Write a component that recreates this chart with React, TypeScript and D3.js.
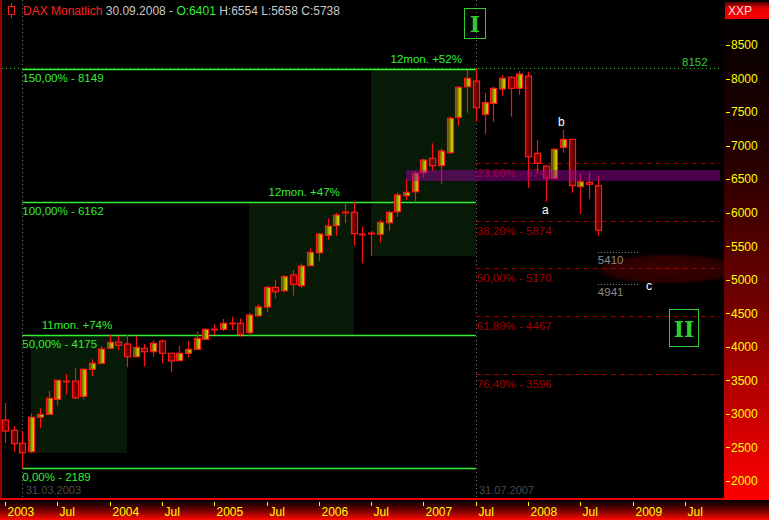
import React from "react";
import * as d3 from "d3";

// ---- data ----
const candleMonths = [
  "2003-01","2003-02","2003-03","2003-04","2003-05","2003-06","2003-07","2003-08","2003-09","2003-10","2003-11","2003-12",
  "2004-01","2004-02","2004-03","2004-04","2004-05","2004-06","2004-07","2004-08","2004-09","2004-10","2004-11","2004-12",
  "2005-01","2005-02","2005-03","2005-04","2005-05","2005-06","2005-07","2005-08","2005-09","2005-10","2005-11","2005-12",
  "2006-01","2006-02","2006-03","2006-04","2006-05","2006-06","2006-07","2006-08","2006-09","2006-10","2006-11","2006-12",
  "2007-01","2007-02","2007-03","2007-04","2007-05","2007-06","2007-07","2007-08","2007-09","2007-10","2007-11","2007-12",
  "2008-01","2008-02","2008-03","2008-04","2008-05","2008-06","2008-07","2008-08","2008-09",
];
const opens = [
  2909,2756,2562,2437,2950,2994,3218,3495,3490,3262,3665,3754,
  3978,4072,4042,3853,3978,3928,4087,3904,3794,3904,3963,4112,
  4258,4261,4348,4351,4211,4464,4594,4887,4837,5071,4912,5210,
  5403,5662,5806,5995,6005,5680,5683,5677,5851,6015,6254,6313,
  6596,6810,6701,6894,7422,7878,7963,7467,7630,7843,8018,7854,
  8037,6885,6696,6512,6974,7093,6388,6453,6401,
];
const highs = [
  3163,2820,2745,3009,3084,3342,3508,3595,3680,3680,3814,4013,
  4177,4162,4177,4162,4042,4102,4112,3910,4013,4087,4226,4276,
  4340,4415,4449,4425,4509,4634,4907,4996,5071,5145,5245,5469,
  5702,5916,6000,6130,6162,5791,5727,5891,6030,6303,6502,6622,
  6805,7034,6960,7431,7888,8127,8152,7789,7878,8052,8037,8112,
  8102,7083,6700,6960,7232,7100,6587,6611,6554,
];
const lows = [
  2566,2437,2189,2413,2786,2984,3123,3292,3218,3218,3565,3745,
  3968,3953,3695,3845,3705,3853,3754,3620,3790,3839,3955,4105,
  4177,4236,4251,4151,4165,4449,4520,4724,4813,4763,4877,5205,
  5284,5593,5657,5851,5508,5245,5359,5553,5727,5940,6189,6174,
  6522,6622,6428,6875,7297,7491,7356,7173,7356,7744,7431,7754,
  6373,6586,6164,6505,6894,6298,5981,6199,5658,
];
const closes = [
  2745,2556,2422,2950,2994,3233,3501,3488,3240,3665,3754,3968,
  4068,4023,3853,3993,3928,4053,3904,3789,3904,3963,4127,4261,
  4262,4351,4352,4187,4475,4594,4887,4822,5046,4932,5205,5409,
  5682,5801,5965,6003,5687,5675,5690,5856,6005,6264,6303,6587,
  6785,6701,6919,7407,7869,8003,7565,7640,7854,8003,7854,8067,
  6835,6736,6517,6944,7093,6403,6462,6423,5738,
];

const axisMonths = d3.utcMonth
  .range(new Date(Date.UTC(2003, 0, 1)), new Date(Date.UTC(2010, 0, 1)))
  .map((d) => d3.utcFormat("%Y-%m")(d));
const xTickMonths = ["2003-01","2003-07","2004-01","2004-07","2005-01","2005-07","2006-01","2006-07","2007-01","2007-07","2008-01","2008-07","2009-01","2009-07"];
const xTickLabels = ["2003","Jul","2004","Jul","2005","Jul","2006","Jul","2007","Jul","2008","Jul","2009","Jul"];
const yTicks = [2000, 2500, 3000, 3500, 4000, 4500, 5000, 5500, 6000, 6500, 7000, 7500, 8000, 8500];

// Fibonacci extension levels (green) and retracements (dark red)
const extLevels = [8149, 6162, 4175, 2189];
const extLabels = ["150,00% - 8149", "100,00% - 6162", "50,00% - 4175", "0,00% - 2189"];
const retLevels = [6743, 5874, 5170, 4467, 3596];
const retLabels = ["23,60% - 6743", "38,20% - 5874", "50,00% - 5170", "61,80% - 4467", "76,40% - 3596"];

// shaded rally boxes: start month, end month, low, high, label
const boxStart = ["2003-04", "2005-05", "2006-07"];
const boxEnd = ["2004-03", "2006-05", "2007-07"];
const boxLow = [2417, 4175, 5354];
const boxHigh = [4175, 6162, 8149];
const boxLabels = ["11mon. +74%", "12mon. +47%", "12mon. +52%"];
const boxLabelMonth = ["2003-05", "2005-07", "2006-09"];

const bandLow = 6472;
const bandHigh = 6636;
const targets = [5410, 4941];
const allTimeHigh = 8152;

const W = 769;
const H = 520;
const plotRight = 724;
const plotBottom = 499;

export default function App() {
  const x = d3.scalePoint<string>().domain(axisMonths).range([4.9, 4.9 + 83 * 8.72]);
  const y = d3.scaleLinear().domain([2000, 8500]).range([481, 45]);
  const X = (m: string) => x(m) as number;
  const green = "#33ee33";
  const fibRed = "#a00000";
  const font = "'Liberation Sans', Arial, sans-serif";
  const xLow = X("2003-03");
  const xTop = X("2007-07");

  return (
    <svg width={W} height={H} style={{ position: "absolute", left: 0, top: 0, background: "#000" }} fontFamily={font}>
      <defs>
        <linearGradient id="upFill" x1="0" x2="1" y1="0" y2="0">
          <stop offset="0" stopColor="#3a3a00" />
          <stop offset="0.6" stopColor="#b0b400" />
          <stop offset="1" stopColor="#eaea00" />
        </linearGradient>
        <linearGradient id="downFill" x1="0" x2="1" y1="0" y2="0">
          <stop offset="0" stopColor="#b00000" />
          <stop offset="1" stopColor="#3a0000" />
        </linearGradient>
        <linearGradient id="rightPanel" gradientUnits="userSpaceOnUse" x1="0" x2="0" y1="0" y2="500">
          <stop offset="0" stopColor="#000000" />
          <stop offset="0.3" stopColor="#220000" />
          <stop offset="0.6" stopColor="#700000" />
          <stop offset="0.85" stopColor="#d00000" />
          <stop offset="1" stopColor="#ff0000" />
        </linearGradient>
        <linearGradient id="bottomPanel" gradientUnits="userSpaceOnUse" x1="0" x2="0" y1="500" y2="520">
          <stop offset="0" stopColor="#000000" />
          <stop offset="0.45" stopColor="#600000" />
          <stop offset="1" stopColor="#ff0a00" />
        </linearGradient>
        <linearGradient id="header" x1="0" x2="0" y1="0" y2="1">
          <stop offset="0" stopColor="#500000" />
          <stop offset="0.35" stopColor="#e00000" />
          <stop offset="1" stopColor="#ff0000" />
        </linearGradient>
        <radialGradient id="blob" cx="0.5" cy="0.5" r="0.5">
          <stop offset="0" stopColor="#3a0000" />
          <stop offset="0.75" stopColor="#2a0000" />
          <stop offset="1" stopColor="#000000" stopOpacity="0" />
        </radialGradient>
        <clipPath id="plotClip">
          <rect x={2} y={0} width={plotRight - 2} height={plotBottom} />
        </clipPath>
      </defs>

      <rect x={0} y={0} width={W} height={H} fill="#000" />

      <g clipPath="url(#plotClip)">
        {/* shaded rally boxes */}
        {boxStart.map((s, i) => (
          <rect key={"box" + i} x={X(s)} y={y(boxHigh[i])} width={X(boxEnd[i]) - X(s)} height={y(boxLow[i]) - y(boxHigh[i])} fill="#071a07" />
        ))}

        {/* dark red target zone */}
        <ellipse cx={668} cy={269} rx={82} ry={17} fill="url(#blob)" />

        {/* dotted verticals */}
        <line x1={Math.round(xLow) + 0.5} x2={Math.round(xLow) + 0.5} y1={0} y2={plotBottom} stroke="#777" strokeDasharray="1,3" />
        <line x1={Math.round(xTop) + 0.5} x2={Math.round(xTop) + 0.5} y1={0} y2={plotBottom} stroke="#777" strokeDasharray="1,3" />

        {/* all-time-high dotted line */}
        <line x1={2} x2={722} y1={Math.round(y(allTimeHigh)) + 0.5} y2={Math.round(y(allTimeHigh)) + 0.5} stroke="#33bb33" strokeDasharray="1,3" />

        {/* green extension lines */}
        {extLevels.map((v, i) => (
          <g key={"ext" + i}>
            <line x1={xLow} x2={xTop} y1={Math.round(y(v)) + 0.5} y2={Math.round(y(v)) + 0.5} stroke={green} strokeWidth={1.3} />
            <text x={xLow} y={y(v) + 13} fill={green} fontSize={11.5}>{extLabels[i]}</text>
          </g>
        ))}

        {/* retracement lines */}
        {retLevels.map((v, i) => (
          <g key={"ret" + i}>
            <line x1={xTop} x2={720} y1={Math.round(y(v)) + 0.5} y2={Math.round(y(v)) + 0.5} stroke={fibRed} strokeDasharray="5,4" />
            <text x={xTop + 1} y={y(v) + 14} fill={fibRed} fontSize={11.5}>{retLabels[i]}</text>
          </g>
        ))}

        {/* candles */}
        {candleMonths.map((m, i) => {
          const cx = Math.round(X(m));
          const o = opens[i], c = closes[i];
          const top = y(Math.max(o, c));
          const bot = y(Math.min(o, c));
          const up = c >= o;
          const doji = bot - top < 1.6;
          return (
            <g key={"c" + m}>
              <line x1={cx + 0.5} x2={cx + 0.5} y1={y(highs[i])} y2={y(lows[i])} stroke="#ff1010" strokeWidth={1.2} />
              {doji ? (
                <line x1={cx - 3} x2={cx + 4} y1={Math.round(top) + 0.5} y2={Math.round(top) + 0.5} stroke="#ff1010" strokeWidth={2} />
              ) : (
                <rect x={cx - 2.5} y={top} width={6} height={bot - top} fill={up ? "url(#upFill)" : "url(#downFill)"} stroke="#ff1a1a" strokeWidth={1.2} />
              )}
            </g>
          );
        })}

        {/* purple zone */}
        <rect x={X("2006-11")} y={y(bandHigh)} width={720 - X("2006-11")} height={y(bandLow) - y(bandHigh)} fill="#a000a0" fillOpacity={0.47} />

        {/* box labels */}
        {boxLabels.map((t, i) => (
          <text key={"bl" + i} x={X(boxLabelMonth[i]) + 2} y={y(boxHigh[i]) - 6} fill={green} fontSize={11.5}>{t}</text>
        ))}

        {/* target dotted lines */}
        {targets.map((v) => (
          <g key={"t" + v}>
            <line x1={X("2008-09")} x2={638} y1={Math.round(y(v)) + 0.5} y2={Math.round(y(v)) + 0.5} stroke="#888" strokeDasharray="1,2" />
            <text x={X("2008-09")} y={y(v) + 12} fill="#8a8a8a" fontSize={11.5}>{v}</text>
          </g>
        ))}

        {/* wave labels */}
        <text x={542} y={214} fill="#fff" fontSize={12}>a</text>
        <text x={558} y={126} fill="#fff" fontSize={12}>b</text>
        <text x={646} y={290} fill="#fff" fontSize={12}>c</text>

        <text x={682} y={66} fill="#33cc33" fontSize={11.5}>{allTimeHigh}</text>

        {/* date stamps */}
        <text x={26} y={494} fill="#4a4a4a" fontSize={11}>31.03.2003</text>
        <text x={479} y={494} fill="#4a4a4a" fontSize={11}>31.07.2007</text>

        {/* wave count markers */}
        <rect x={464.5} y={8.5} width={21} height={30} fill="none" stroke="#33cc33" />
        <text x={475} y={32} fill="#33cc33" fontSize={22} fontWeight="bold" textAnchor="middle" fontFamily="'DejaVu Serif', serif">I</text>
        <rect x={669.5} y={309.5} width={29} height={37} fill="none" stroke="#33cc33" />
        <text x={684} y={337} fill="#33cc33" fontSize={22} fontWeight="bold" textAnchor="middle" fontFamily="'DejaVu Serif', serif">II</text>
      </g>

      {/* title */}
      <g>
        <line x1={11.5} x2={11.5} y1={3} y2={18} stroke="#ff1a1a" />
        <rect x={8.5} y={6.5} width={6} height={8} fill="#000" stroke="#ff1a1a" />
        <text x={23} y={15} fontSize={12}>
          <tspan fill="#ff2020">DAX Monatlich</tspan>
          <tspan fill="#c8c8c8">{"  30.09.2008 - "}</tspan>
          <tspan fill="#33ee33">O:6401</tspan>
          <tspan fill="#c8c8c8">{" H:6554 L:5658 C:5738"}</tspan>
        </text>
      </g>

      {/* borders */}
      <line x1={1} x2={1} y1={0} y2={plotBottom} stroke="#cc0000" strokeWidth={1.5} />

      {/* right axis panel */}
      <rect x={plotRight} y={0} width={W - plotRight} height={plotBottom + 1} fill="url(#rightPanel)" />
      <rect x={plotRight + 1} y={2} width={W - plotRight - 1} height={17} fill="url(#header)" />
      <text x={728} y={15} fill="#ffd8d8" fontSize={12}>XXP</text>
      {yTicks.map((v) => (
        <g key={"y" + v}>
          <line x1={726} x2={730} y1={Math.round(y(v)) + 0.5} y2={Math.round(y(v)) + 0.5} stroke="#ffff00" />
          <text x={731} y={y(v)} dy="0.36em" fill="#ffff00" fontSize={12}>{v}</text>
        </g>
      ))}

      {/* bottom axis panel */}
      <rect x={0} y={plotBottom + 1} width={W} height={H - plotBottom - 1} fill="url(#bottomPanel)" />
      <line x1={0} x2={plotRight} y1={plotBottom} y2={plotBottom} stroke="#ee0000" strokeWidth={2} />
      {xTickMonths.map((m, i) => {
        const tx = Math.round(X(m)) + 0.5;
        return (
          <g key={"x" + m}>
            <line x1={tx} x2={tx} y1={502} y2={506} stroke="#ffff00" />
            <text x={tx + 2} y={516} fill="#ffff00" fontSize={12}>{xTickLabels[i]}</text>
          </g>
        );
      })}
    </svg>
  );
}
